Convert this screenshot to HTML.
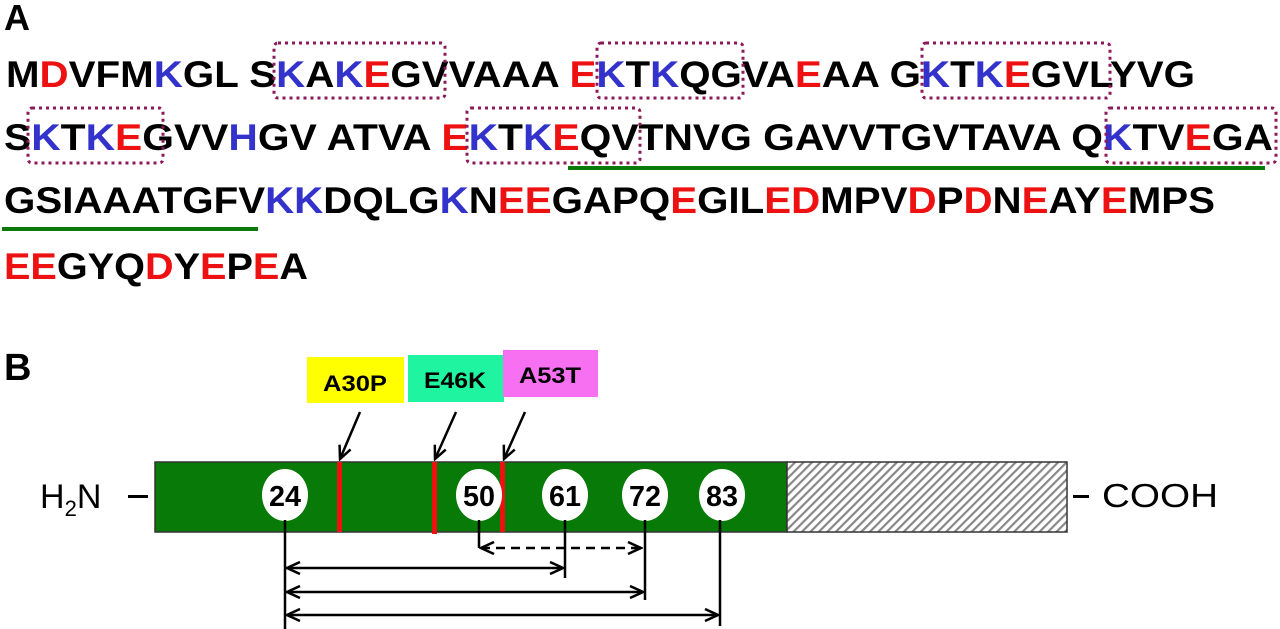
<!DOCTYPE html>
<html><head><meta charset="utf-8"><style>
html,body{margin:0;padding:0;background:#fff;width:1280px;height:629px;overflow:hidden}
svg{display:block}
.s{font-family:"Liberation Sans",Arial,sans-serif;font-weight:bold;font-size:37px;fill:#000}
.r{fill:#ee1111}.b{fill:#3333cc}
</style></head><body>
<svg width="1280" height="629" viewBox="0 0 1280 629" xmlns="http://www.w3.org/2000/svg">
<defs>
<pattern id="h" width="6" height="6" patternUnits="userSpaceOnUse" patternTransform="rotate(45)">
<rect width="6" height="6" fill="#fff"/><rect width="2.2" height="6" fill="#888"/>
</pattern>
<marker id="ae" markerWidth="16" markerHeight="14" refX="14" refY="7" orient="auto" markerUnits="userSpaceOnUse"><path d="M1,1 L14,7 L1,13" fill="none" stroke="#000" stroke-width="2.5"/></marker>
<marker id="as" markerWidth="16" markerHeight="14" refX="2" refY="7" orient="auto" markerUnits="userSpaceOnUse"><path d="M15,1 L2,7 L15,13" fill="none" stroke="#000" stroke-width="2.5"/></marker>
</defs>
<text x="4" y="30" class="s" style="font-size:36px">A</text>
<text x="6" y="87" class="s" textLength="1189" lengthAdjust="spacingAndGlyphs">M<tspan class="r">D</tspan>VFM<tspan class="b">K</tspan>GL S<tspan class="b">K</tspan>A<tspan class="b">K</tspan><tspan class="r">E</tspan>GVVAAA <tspan class="r">E</tspan><tspan class="b">K</tspan>T<tspan class="b">K</tspan>QGVA<tspan class="r">E</tspan>AA G<tspan class="b">K</tspan>T<tspan class="b">K</tspan><tspan class="r">E</tspan>GVLYVG</text>
<text x="4" y="150" class="s" textLength="1269" lengthAdjust="spacingAndGlyphs">S<tspan class="b">K</tspan>T<tspan class="b">K</tspan><tspan class="r">E</tspan>GVV<tspan class="b">H</tspan>GV ATVA <tspan class="r">E</tspan><tspan class="b">K</tspan>T<tspan class="b">K</tspan><tspan class="r">E</tspan>QVTNVG GAVVTGVTAVA Q<tspan class="b">K</tspan>TV<tspan class="r">E</tspan>GA</text>
<text x="4" y="213" class="s" textLength="1211" lengthAdjust="spacingAndGlyphs">GSIAAATGFV<tspan class="b">KK</tspan>DQLG<tspan class="b">K</tspan>N<tspan class="r">EE</tspan>GAPQ<tspan class="r">E</tspan>GIL<tspan class="r">ED</tspan>MPV<tspan class="r">D</tspan>P<tspan class="r">D</tspan>N<tspan class="r">E</tspan>AY<tspan class="r">E</tspan>MPS</text>
<text x="4" y="279" class="s" textLength="304" lengthAdjust="spacingAndGlyphs"><tspan class="r">EE</tspan>GYQ<tspan class="r">D</tspan>Y<tspan class="r">E</tspan>P<tspan class="r">E</tspan>A</text>
<g fill="none" stroke="#8b1a5a" stroke-width="3" stroke-dasharray="3,4">
<rect x="274" y="43" width="171" height="55" rx="4"/>
<rect x="597" y="43" width="146" height="55" rx="4"/>
<rect x="922" y="43" width="188" height="55" rx="4"/>
<rect x="28" y="108" width="135" height="55" rx="4"/>
<rect x="467" y="108" width="173" height="55" rx="4"/>
<rect x="1106" y="108" width="170" height="55" rx="4"/>
</g>
<rect x="568" y="166" width="697" height="4" fill="#0a7a0a"/>
<rect x="2" y="227" width="256" height="4" fill="#0a7a0a"/>
<text x="4" y="380" class="s" style="font-size:38px">B</text>
<rect x="307" y="357" width="97" height="46" fill="#ffff00"/>
<rect x="408" y="355" width="96" height="47" fill="#1ff5a0"/>
<rect x="503" y="350" width="95" height="47" fill="#f770f2"/>
<text x="355" y="391" class="s" style="font-size:22px" text-anchor="middle" textLength="64" lengthAdjust="spacingAndGlyphs">A30P</text>
<text x="455" y="388" class="s" style="font-size:22px" text-anchor="middle" textLength="62" lengthAdjust="spacingAndGlyphs">E46K</text>
<text x="550" y="383" class="s" style="font-size:22px" text-anchor="middle" textLength="62" lengthAdjust="spacingAndGlyphs">A53T</text>
<g stroke="#000" stroke-width="2.5">
<line x1="360" y1="412" x2="340" y2="459" marker-end="url(#ae)"/>
<line x1="456" y1="412" x2="435" y2="459" marker-end="url(#ae)"/>
<line x1="525" y1="412" x2="504" y2="459" marker-end="url(#ae)"/>
</g>
<rect x="155" y="462" width="632" height="70" fill="#087a08" stroke="#333" stroke-width="1.5"/>
<rect x="787" y="462" width="280" height="70" fill="url(#h)" stroke="#333" stroke-width="1.5"/>
<g fill="#ee1111"><rect x="337" y="462" width="5" height="70"/><rect x="432" y="462" width="5" height="72"/><rect x="500" y="462" width="5" height="70"/></g>
<g fill="#fff">
<ellipse cx="285" cy="495" rx="23" ry="26"/><ellipse cx="479" cy="495" rx="23" ry="26"/><ellipse cx="565" cy="495" rx="23" ry="26"/><ellipse cx="645" cy="495" rx="23" ry="26"/><ellipse cx="722" cy="495" rx="23" ry="26"/>
</g>
<g class="s" style="font-size:29px" text-anchor="middle">
<text x="285" y="506" textLength="32" lengthAdjust="spacingAndGlyphs">24</text><text x="479" y="506" textLength="32" lengthAdjust="spacingAndGlyphs">50</text><text x="565" y="506" textLength="32" lengthAdjust="spacingAndGlyphs">61</text><text x="645" y="506" textLength="32" lengthAdjust="spacingAndGlyphs">72</text><text x="722" y="506" textLength="32" lengthAdjust="spacingAndGlyphs">83</text>
</g>
<text x="40" y="508" style="font-family:'Liberation Sans',Arial,sans-serif;font-size:34px">H<tspan style="font-size:22px" dy="8">2</tspan><tspan dy="-8">N</tspan></text>
<rect x="128" y="495" width="20" height="3" fill="#000"/>
<rect x="1073" y="495" width="16" height="3" fill="#000"/>
<text x="1102" y="507" style="font-family:'Liberation Sans',Arial,sans-serif;font-size:33px" textLength="116" lengthAdjust="spacingAndGlyphs">COOH</text>
<g stroke="#000" stroke-width="2.5" fill="none">
<line x1="285" y1="520" x2="285" y2="629"/>
<line x1="479" y1="520" x2="479" y2="548"/>
<line x1="565" y1="520" x2="565" y2="578"/>
<line x1="645" y1="520" x2="645" y2="600"/>
<line x1="720" y1="520" x2="720" y2="626"/>
<line x1="481" y1="548" x2="641" y2="548" stroke-dasharray="9,6" marker-start="url(#as)" marker-end="url(#ae)"/>
<line x1="287" y1="568" x2="563" y2="568" marker-start="url(#as)" marker-end="url(#ae)"/>
<line x1="287" y1="592" x2="643" y2="592" marker-start="url(#as)" marker-end="url(#ae)"/>
<line x1="287" y1="615" x2="718" y2="615" marker-start="url(#as)" marker-end="url(#ae)"/>
</g>
</svg>
</body></html>
